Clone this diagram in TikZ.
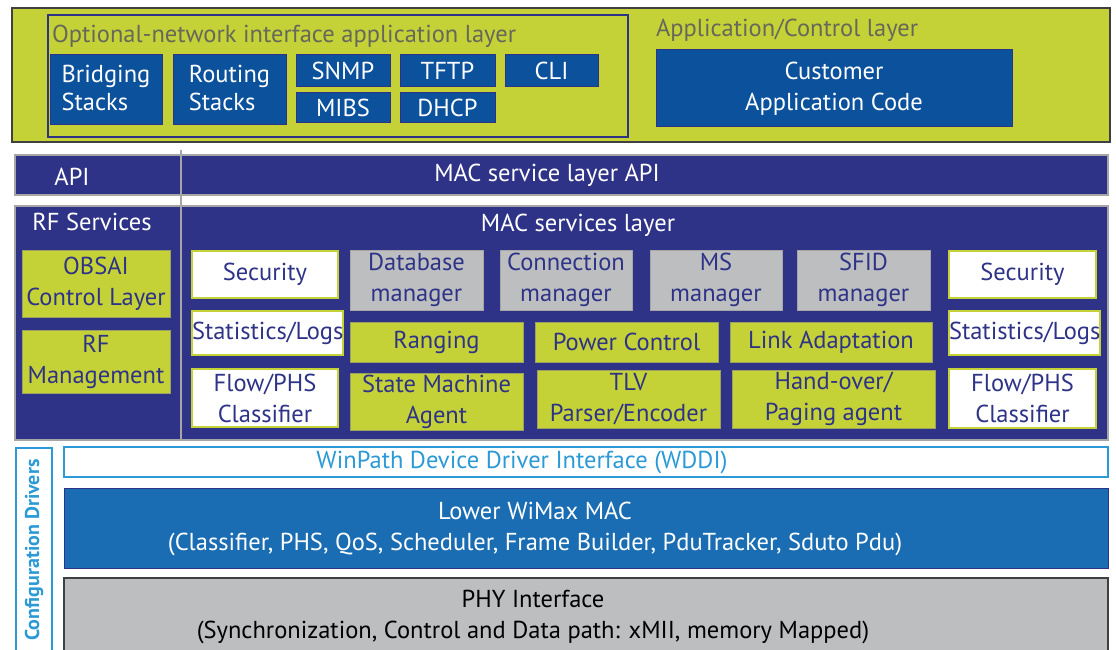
\documentclass[tikz,border=0pt]{standalone}
\usepackage{fontspec}
\setmainfont{PT Sans}
\definecolor{lime}{HTML}{C5D237}
\definecolor{navy}{HTML}{2E3387}
\definecolor{appblue}{HTML}{0C519C}
\definecolor{mblue}{HTML}{1A6DB2}
\definecolor{mgray}{HTML}{BCBEC0}
\definecolor{lblue}{HTML}{2B9AD6}
\definecolor{ttlgray}{HTML}{66685A}
\newcommand\bx[7]{\node[#2,anchor=north west,minimum width={(#5-#3)*1pt},minimum height={(#6-#4)*1pt}] (#1) at (#3,#4) {#7};}
\begin{document}
\begin{tikzpicture}[x=1pt,y=-1pt,
  every node/.style={inner sep=0pt,outer sep=0pt,align=center,font=\fontsize{24.5}{31}\selectfont},
  outer/.style={fill=lime,draw=black!75,line width=2.5pt},
  inbox/.style={fill=lime,draw=navy,line width=1.5pt},
  app/.style={fill=appblue,draw=navy,line width=1pt,text=white},
  bar/.style={fill=navy,draw=gray!70,line width=2pt,text=white},
  ttl/.style={text=ttlgray},
  wtxt/.style={text=white},
  limebox/.style={fill=lime,draw=gray!60!lime,line width=0.8pt,text=navy},
  whitebox/.style={fill=white,draw=lime,line width=2pt,text=navy},
  graybox/.style={fill=mgray,draw=gray!70,line width=0.6pt,text=navy},
  wddi/.style={fill=white,draw=lblue,line width=1.5pt},
  lower/.style={fill=mblue,draw=navy,line width=1pt},
  phy/.style={fill=mgray,draw=black!75,line width=2pt},
  cfg/.style={fill=white,draw=lblue,line width=1.5pt}]
\useasboundingbox (0,0) rectangle (1116,650);
\clip (0,0) rectangle (1116,650);
% top layers
\bx{top}{outer}{12}{8}{1110}{142}{}
\bx{onet}{inbox}{48}{15}{628}{137}{}
\node[ttl,anchor=west] (onett) at (52,36) {Optional-network interface application layer};
\bx{bridge}{app}{50}{55}{162}{125}{\begin{tabular}{@{}l@{}}Bridging\\[-3pt]Stacks\end{tabular}}
\bx{route}{app}{173}{55}{286}{125}{\begin{tabular}{@{}l@{}}Routing\\[-3pt]Stacks\end{tabular}}
\bx{snmp}{app}{296}{55}{390}{87}{SNMP}
\bx{tftp}{app}{400}{55}{495}{87}{TFTP}
\bx{cli}{app}{505}{55}{598}{87}{CLI}
\bx{mibs}{app}{296}{93}{390}{123}{MIBS}
\bx{dhcp}{app}{400}{93}{495}{123}{DHCP}
\node[ttl,anchor=west] (actt) at (656,30) {Application/Control layer};
\bx{cust}{app}{656}{50}{1012}{127}{Customer\\Application Code}
% API row
\bx{api}{bar}{15}{155}{181}{195}{}
\bx{macapi}{bar}{181}{155}{1108}{195}{}
\node[wtxt] (apit) at (72,177) {API};
\node[wtxt] (macapit) at (547,175) {MAC service layer API};
% services
\bx{rfs}{bar}{15}{206}{181}{440}{}
\bx{macs}{bar}{181}{206}{1108}{440}{}
\draw[gray!70,line width=2pt] (181,150) -- (181,440);
\node[wtxt] (rfst) at (92,222) {RF Services};
\node[wtxt] (macst) at (578,225) {MAC services layer};
\bx{obsai}{limebox}{22}{250}{170}{317}{OBSAI\\Control Layer}
\bx{rfm}{limebox}{22}{330}{170}{393}{RF\\Management}
% grid
\bx{sec1}{whitebox}{192}{251}{338}{298}{Security}
\bx{stat1}{whitebox}{192}{311}{338}{355}{Statistics/Logs}
\bx{flow1}{whitebox}{192}{369}{338}{427}{Flow/PHS\\Classifier}
\bx{db}{graybox}{350}{250}{483}{310}{Database\\manager}
\bx{conn}{graybox}{500}{250}{632}{310}{Connection\\manager}
\bx{ms}{graybox}{650}{250}{782}{310}{MS\\manager}
\bx{sfid}{graybox}{797}{250}{930}{310}{SFID\\manager}
\bx{rang}{limebox}{350}{322}{523}{362}{Ranging}
\bx{pow}{limebox}{535}{322}{718}{362}{Power Control}
\bx{link}{limebox}{730}{322}{932}{362}{Link Adaptation}
\bx{sma}{limebox}{350}{373}{523}{430}{State Machine\\Agent}
\bx{tlv}{limebox}{537}{370}{720}{428}{TLV\\Parser/Encoder}
\bx{hand}{limebox}{732}{370}{935}{428}{Hand-over/\\Paging agent}
\bx{sec2}{whitebox}{949}{251}{1096}{298}{Security}
\bx{stat2}{whitebox}{949}{311}{1096}{355}{Statistics/Logs}
\bx{flow2}{whitebox}{949}{369}{1096}{428}{Flow/PHS\\Classifier}
% bottom
\bx{cfgd}{cfg}{16}{448}{52}{670}{}
\node[text=lblue,rotate=90,font=\fontsize{20}{24}\selectfont\bfseries] (cfgt) at (34,550) {Configuration Drivers};
\bx{wd}{wddi}{64}{447}{1108}{477}{}
\node[text=lblue] (wdt) at (522,462) {WinPath Device Driver Interface (WDDI)};
\bx{low}{lower}{64}{488}{1108}{568}{}
\node[wtxt] (lowt) at (535,529) {Lower WiMax MAC\\(Classifier, PHS, QoS, Scheduler, Frame Builder, PduTracker, Sduto Pdu)};
\bx{phyb}{phy}{64}{578}{1108}{680}{}
\node (phyt) at (533,617) {PHY Interface\\(Synchronization, Control and Data path: xMII, memory Mapped)};
\end{tikzpicture}
\end{document}
